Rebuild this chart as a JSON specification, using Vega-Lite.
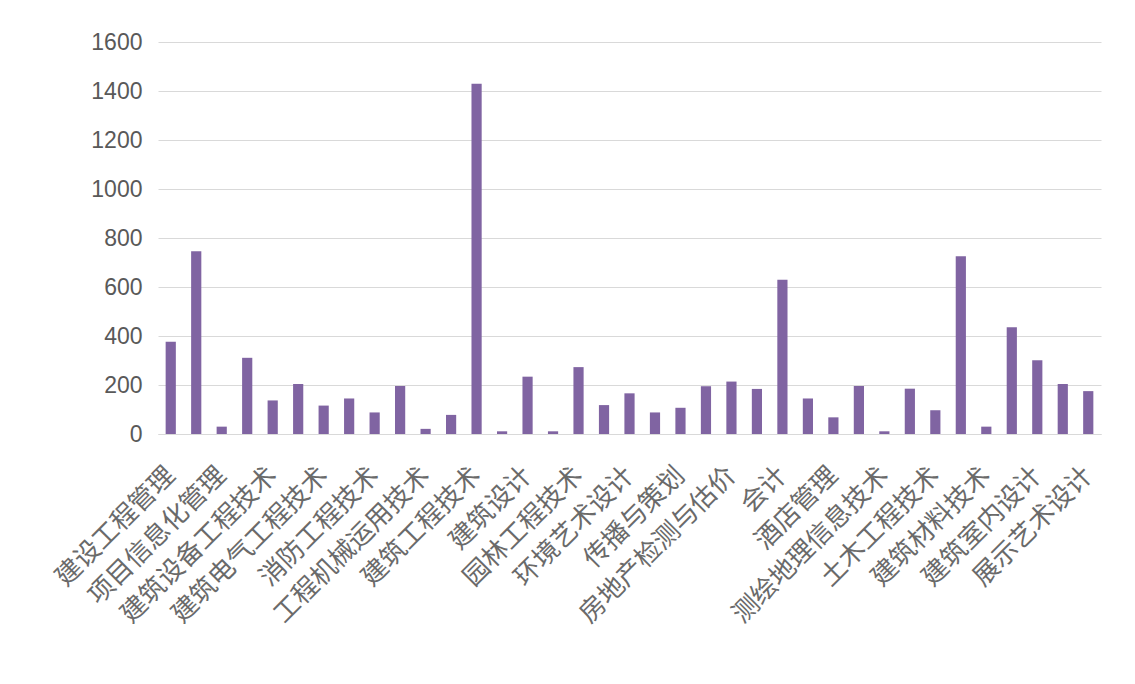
{
  "$schema": "https://vega.github.io/schema/vega-lite/v6.json",
  "autosize": {"type": "none"},
  "width": 943,
  "height": 392,
  "padding": {"left": 158, "top": 42, "right": 34, "bottom": 250},
  "background": "white",
  "config": {"view": {"stroke": null}},
  "data": {"values": [
    {"major": "建设工程管理", "count": 377},
    {"major": "工程造价", "count": 746},
    {"major": "项目信息化管理", "count": 30},
    {"major": "建设工程监理", "count": 311},
    {"major": "建筑设备工程技术", "count": 137},
    {"major": "供热通风与空调工程技术", "count": 204},
    {"major": "建筑电气工程技术", "count": 116},
    {"major": "建筑智能化工程技术", "count": 145},
    {"major": "消防工程技术", "count": 88},
    {"major": "市政工程技术", "count": 196},
    {"major": "工程机械运用技术", "count": 21},
    {"major": "道路桥梁工程技术", "count": 78},
    {"major": "建筑工程技术", "count": 1430},
    {"major": "城乡规划", "count": 11},
    {"major": "建筑设计", "count": 234},
    {"major": "风景园林设计", "count": 11},
    {"major": "园林工程技术", "count": 273},
    {"major": "建筑装饰工程技术", "count": 118},
    {"major": "环境艺术设计", "count": 166},
    {"major": "广告设计与制作", "count": 88},
    {"major": "传播与策划", "count": 107},
    {"major": "房地产经营与管理", "count": 195},
    {"major": "房地产检测与估价", "count": 214},
    {"major": "物业管理", "count": 184},
    {"major": "会计", "count": 630},
    {"major": "财务管理", "count": 145},
    {"major": "酒店管理", "count": 68},
    {"major": "工程测量技术", "count": 196},
    {"major": "测绘地理信息技术", "count": 11},
    {"major": "地下与隧道工程技术", "count": 185},
    {"major": "土木工程技术", "count": 97},
    {"major": "建筑工程管理", "count": 726},
    {"major": "建筑材料技术", "count": 30},
    {"major": "建筑装饰材料技术", "count": 436},
    {"major": "建筑室内设计", "count": 301},
    {"major": "数字媒体艺术设计", "count": 204},
    {"major": "展示艺术设计", "count": 175}
  ]},
  "mark": {"type": "bar", "color": "#8064a2"},
  "encoding": {
    "x": {
      "field": "major",
      "type": "nominal",
      "sort": null,
      "title": null,
      "scale": {"paddingInner": 0.6, "paddingOuter": 0.3},
      "axis": {
        "values": ["建设工程管理", "项目信息化管理", "建筑设备工程技术", "建筑电气工程技术", "消防工程技术", "工程机械运用技术", "建筑工程技术", "建筑设计", "园林工程技术", "环境艺术设计", "传播与策划", "房地产检测与估价", "会计", "酒店管理", "测绘地理信息技术", "土木工程技术", "建筑材料技术", "建筑室内设计", "展示艺术设计"],
        "labelAngle": -45,
        "labelAlign": "right",
        "labelBaseline": "middle",
        "labelFont": "Noto Sans CJK SC",
        "labelFontSize": 26,
        "labelColor": "#6a6a6a",
        "labelPadding": 37,
        "labelOverlap": false,
        "labelLimit": 500,
        "ticks": false,
        "domain": true,
        "domainColor": "#d9d9d9",
        "grid": false
      }
    },
    "y": {
      "field": "count",
      "type": "quantitative",
      "title": null,
      "scale": {"domain": [0, 1600], "nice": false},
      "axis": {
        "values": [0, 200, 400, 600, 800, 1000, 1200, 1400, 1600],
        "format": "d",
        "labelFont": "Liberation Sans",
        "labelFontSize": 23,
        "labelColor": "#595959",
        "labelPadding": 16,
        "ticks": false,
        "domain": false,
        "grid": true,
        "gridColor": "#d9d9d9",
        "gridWidth": 1.2
      }
    }
  }
}
